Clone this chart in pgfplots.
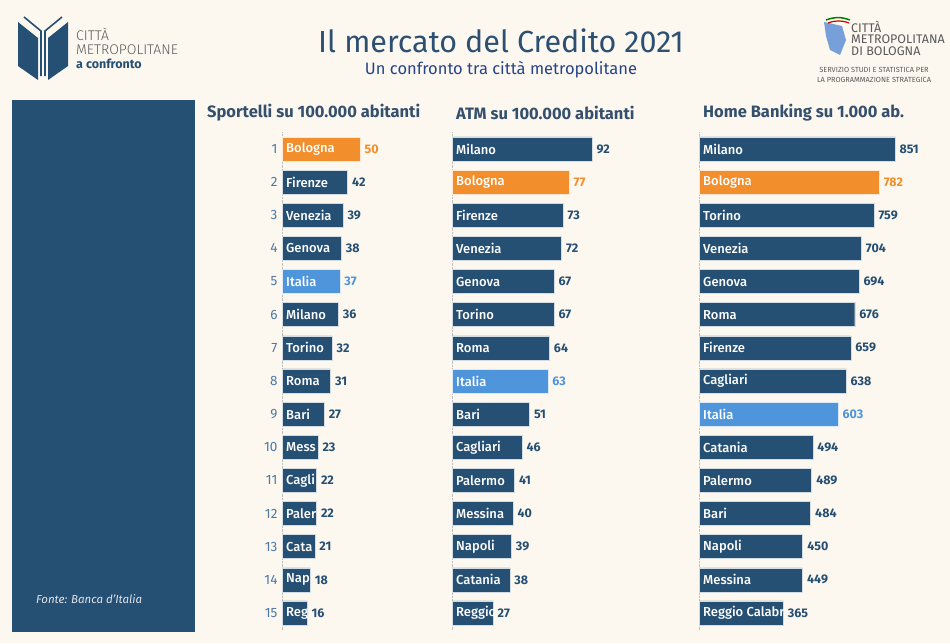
\documentclass[border=0pt]{standalone}
\usepackage{fontspec}
\setmainfont{Fira Sans}
\newfontfamily\medfont{Fira Sans}[UprightFont={* Medium}]
\newfontfamily\lightfont{Fira Sans}[UprightFont={* Light}]
\usepackage{pgfplots}
\pgfplotsset{compat=1.18}
\definecolor{bg}{HTML}{FDF8EF}
\definecolor{navy}{HTML}{264F74}
\definecolor{orng}{HTML}{F28E2B}
\definecolor{lblue}{HTML}{4E95DB}
\definecolor{ttl}{HTML}{2C5073}
\definecolor{rankc}{HTML}{4D77A5}
\definecolor{valc}{HTML}{34506E}
\definecolor{greyt}{HTML}{5A5A5A}
\pgfplotsset{
  panel/.style={scale only axis, height=497.1pt, xbar, bar width=24pt, bar shift=0pt,
    y dir=reverse, ymin=0.5, ymax=15.5, xmin=0, axis line style={draw=none},
    xtick=\empty, ytick=\empty, clip=false, anchor=north west,
    major tick length=0pt, /pgf/number format/assume math mode=true},
  barsty/.style={fill=#1, draw=white!80!#1, line width=0.4pt, point meta=x,
    nodes near coords, nodes near coords style={font=\fontsize{12.5}{13}\selectfont\bfseries, text=#1, anchor=west, inner sep=0pt, xshift=4.5pt, /pgf/number format/assume math mode=true}},
  namesty/.style={draw=none, fill=none, point meta=explicit symbolic, nodes near coords,
    nodes near coords style={font=\fontsize{13}{14}\medfont, text=white, anchor=west, inner sep=0pt, xshift=4pt}},
}
\begin{document}
\begin{tikzpicture}[x=1pt,y=1pt]
\fill[bg] (0,0) rectangle (950,-643);
\useasboundingbox (0,0) rectangle (950,-643);
% left logo
\fill[navy] (18,-22) -- (38,-38) -- (38,-80) -- (18,-66) -- cycle;
\fill[navy] (68,-22) -- (48,-38) -- (48,-80) -- (68,-66) -- cycle;
\draw[navy, line width=1.6pt] (24,-17) -- (41,-31) -- (41,-76);
\draw[navy, line width=1.6pt] (62,-17) -- (45,-31) -- (45,-76);
\node[anchor=west, inner sep=0pt, text=greyt, font=\fontsize{14}{15}\lightfont] at (76,-34) {CITTÀ};
\node[anchor=west, inner sep=0pt, text=greyt, font=\fontsize{14}{15}\lightfont] at (76,-50) {METROPOLITANE};
\node[anchor=west, inner sep=0pt, text=navy, font=\fontsize{12.5}{13}\selectfont\bfseries] at (76,-64) {a confronto};
% right logo
\fill[cyan!50!blue!55] (824,-22) -- (842,-26) -- (846,-40) -- (840,-55) -- (830,-50) -- (826,-36) -- cycle;
\draw[green!50!black, line width=1.5pt] (826,-20) to[bend left=20] (850,-20);
\draw[red!80!black, line width=1.2pt] (828,-23) to[bend left=20] (849,-23);
\node[anchor=west, inner sep=0pt, text=greyt, font=\fontsize{12.5}{13}\selectfont] at (851,-27) {CITTÀ};
\node[anchor=west, inner sep=0pt, text=greyt, font=\fontsize{12.5}{13}\selectfont] at (851,-39) {METROPOLITANA};
\node[anchor=west, inner sep=0pt, text=greyt, font=\fontsize{12.5}{13}\selectfont] at (851,-51) {DI BOLOGNA};
\node[inner sep=0pt, text=greyt, font=\fontsize{7.4}{8}\selectfont] at (874,-70) {SERVIZIO STUDI E STATISTICA PER};
\node[inner sep=0pt, text=greyt, font=\fontsize{7.4}{8}\selectfont] at (874,-80) {LA PROGRAMMAZIONE STRATEGICA};
% titles
\node[inner sep=0pt, text=ttl, font=\fontsize{30.5}{32}\selectfont] at (501,-41) {Il mercato del Credito 2021};
\node[inner sep=0pt, text=ttl!85!blue, font=\fontsize{16.5}{17}\selectfont] at (501,-70) {Un confronto tra città metropolitane};
% left panel
\fill[navy] (12,-100) rectangle (195,-632);
\node[anchor=west, inner sep=0pt, text=white!85!navy, font=\fontsize{11.5}{12}\selectfont\itshape] at (36,-599) {Fonte: Banca d'Italia};
% panel titles
\node[anchor=west, inner sep=0pt, text=valc, font=\fontsize{16.5}{17}\selectfont\bfseries] at (207,-113) {Sportelli su 100.000 abitanti};
\node[anchor=west, inner sep=0pt, text=valc, font=\fontsize{16.5}{17}\selectfont\bfseries] at (456,-113) {ATM su 100.000 abitanti};
\node[anchor=west, inner sep=0pt, text=valc, font=\fontsize{16.5}{17}\selectfont\bfseries] at (703,-113) {Home Banking su 1.000 ab.};

% Panel 1
\begin{axis}[panel, at={(282pt,-132.4pt)}, width=93.6pt, xmax=60,
  ytick={1,...,15}, yticklabel style={text=rankc, font=\fontsize{13.5}{14}\selectfont, xshift=-1pt}]
\draw[densely dotted, black!25] (axis cs:0,0.5) -- (axis cs:0,15.5);
\addplot[barsty=navy] table[row sep=\\] {x y\\ 42 2\\ 39 3\\ 38 4\\ 36 6\\ 32 7\\ 31 8\\ 27 9\\ 23 10\\ 22 11\\ 22 12\\ 21 13\\ 18 14\\ 16 15\\};
\addplot[barsty=orng] table[row sep=\\] {x y\\ 50 1\\};
\addplot[barsty=lblue] table[row sep=\\] {x y\\ 37 5\\};
\addplot[namesty] table[col sep=comma, row sep=\\, x expr=0, y=r, meta=n] {r,n\\ 1,Bologna\\ 2,Firenze\\ 3,Venezia\\ 4,Genova\\ 5,Italia\\ 6,Milano\\ 7,Torino\\ 8,Roma\\ 9,Bari\\ 10,Mess\\ 11,Cagli\\ 12,Paler\\ 13,Cata\\ 14,Nap\\ 15,Reg\\};
\end{axis}

% Panel 2
\begin{axis}[panel, at={(452pt,-132.4pt)}, width=152pt, xmax=100]
\draw[densely dotted, black!25] (axis cs:0,0.5) -- (axis cs:0,15.5);
\addplot[barsty=navy] table[row sep=\\] {x y\\ 92 1\\ 73 3\\ 72 4\\ 67 5\\ 67 6\\ 64 7\\ 51 9\\ 46 10\\ 41 11\\ 40 12\\ 39 13\\ 38 14\\ 27 15\\};
\addplot[barsty=orng] table[row sep=\\] {x y\\ 77 2\\};
\addplot[barsty=lblue] table[row sep=\\] {x y\\ 63 8\\};
\addplot[namesty] table[col sep=comma, row sep=\\, x expr=0, y=r, meta=n] {r,n\\ 1,Milano\\ 2,Bologna\\ 3,Firenze\\ 4,Venezia\\ 5,Genova\\ 6,Torino\\ 7,Roma\\ 8,Italia\\ 9,Bari\\ 10,Cagliari\\ 11,Palermo\\ 12,Messina\\ 13,Napoli\\ 14,Catania\\ 15,Reggio\\};
\end{axis}

% Panel 3
\begin{axis}[panel, at={(699pt,-132.4pt)}, width=207.3pt, xmax=900]
\draw[densely dotted, black!25] (axis cs:0,0.5) -- (axis cs:0,15.5);
\addplot[barsty=navy] table[row sep=\\] {x y\\ 851 1\\ 759 3\\ 704 4\\ 694 5\\ 676 6\\ 659 7\\ 638 8\\ 494 10\\ 489 11\\ 484 12\\ 450 13\\ 449 14\\ 365 15\\};
\addplot[barsty=orng] table[row sep=\\] {x y\\ 782 2\\};
\addplot[barsty=lblue] table[row sep=\\] {x y\\ 603 9\\};
\addplot[namesty] table[col sep=comma, row sep=\\, x expr=0, y=r, meta=n] {r,n\\ 1,Milano\\ 2,Bologna\\ 3,Torino\\ 4,Venezia\\ 5,Genova\\ 6,Roma\\ 7,Firenze\\ 8,Cagliari\\ 9,Italia\\ 10,Catania\\ 11,Palermo\\ 12,Bari\\ 13,Napoli\\ 14,Messina\\ 15,Reggio Calabr\\};
\end{axis}
\end{tikzpicture}
\end{document}
